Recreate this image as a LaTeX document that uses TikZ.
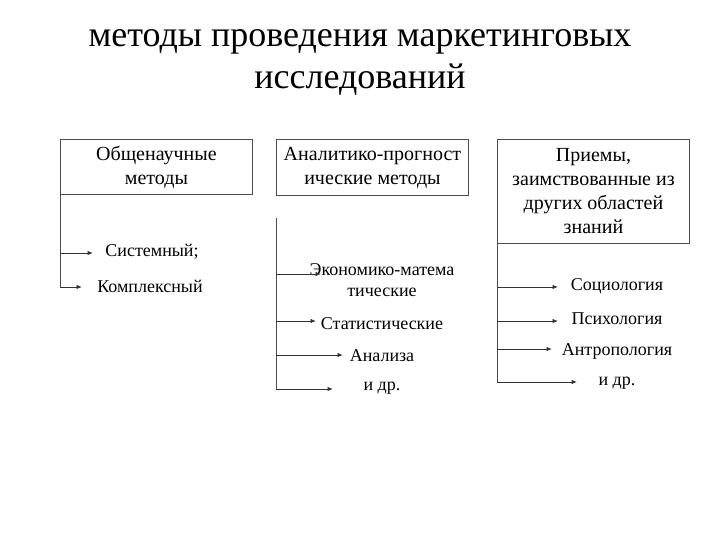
\documentclass[tikz,border=0pt]{standalone}
\usepackage{fontspec}
\setmainfont{Liberation Serif}
\usetikzlibrary{positioning, arrows.meta}

\begin{document}
\begin{tikzpicture}[x=1pt, y=-1pt,
  box/.style={draw=black!70, line width=0.9pt, minimum width=192pt, align=center,
    font=\fontsize{20}{24}\selectfont, inner sep=2pt},
  item/.style={font=\fontsize{18}{21}\selectfont, align=center, inner sep=0pt},
  trunk/.style={draw=black!70, line width=0.9pt},
  branch/.style={draw=black!80, line width=0.9pt, -{Latex[length=5.5pt,width=4.5pt]}}]
\useasboundingbox (0,0) rectangle (720,540);

% title
\node[font=\fontsize{36}{42}\selectfont, align=center] (title) at (360,63)
  {методы проведения маркетинговых\\исследований};

% boxes
\node[box, anchor=north west, minimum height=55pt] (general) at (60,139)
  {Общенаучные\\методы};
\node[box, anchor=north west, minimum height=56pt] (analytic) at (276,139)
  {Аналитико-прогност\\ические методы};
\node[box, anchor=north west, minimum height=104pt] (borrowed) at (497,139)
  {Приемы,\\заимствованные из\\других областей\\знаний};

% column 1
\node[item] (system) at (152,252) {Системный;};
\node[item] (complex) at (150,286) {Комплексный};
\coordinate (g1) at (60,253);
\coordinate (g2) at (60,287);
\coordinate (g1e) at (93,253);
\coordinate (g2e) at (82,287);
\draw[trunk] (general.south west) -- (g2);
\draw[branch] (g1) -- (g1e);
\draw[branch] (g2) -- (g2e);

% column 2
\node[item] (econ) at (382,280) {Экономико-матема\\тические};
\node[item] (stat) at (382,324) {Статистические};
\node[item] (anal) at (382,356) {Анализа};
\node[item] (etc2) at (382,388) {и др.};
\coordinate (a0) at (276,218);
\coordinate (a1) at (276,274);
\coordinate (a2) at (276,321);
\coordinate (a3) at (276,355);
\coordinate (a4) at (276,389);
\coordinate (a1e) at (321,274);
\coordinate (a2e) at (316,321);
\coordinate (a3e) at (343,355);
\coordinate (a4e) at (333,389);
\draw[trunk] (a0) -- (a4);
\draw[branch] (a1) -- (a1e);
\draw[branch] (a2) -- (a2e);
\draw[branch] (a3) -- (a3e);
\draw[branch] (a4) -- (a4e);

% column 3
\node[item] (socio) at (617,286) {Социология};
\node[item] (psycho) at (617,319) {Психология};
\node[item] (anthro) at (617,351) {Антропология};
\node[item] (etc3) at (617,383) {и др.};
\coordinate (b1) at (497,287);
\coordinate (b2) at (497,321);
\coordinate (b3) at (497,349);
\coordinate (b4) at (497,382);
\coordinate (b1e) at (558,287);
\coordinate (b2e) at (558,321);
\coordinate (b3e) at (552,349);
\coordinate (b4e) at (577,382);
\draw[trunk] (borrowed.south west) -- (b4);
\draw[branch] (b1) -- (b1e);
\draw[branch] (b2) -- (b2e);
\draw[branch] (b3) -- (b3e);
\draw[branch] (b4) -- (b4e);
\end{tikzpicture}
\end{document}
